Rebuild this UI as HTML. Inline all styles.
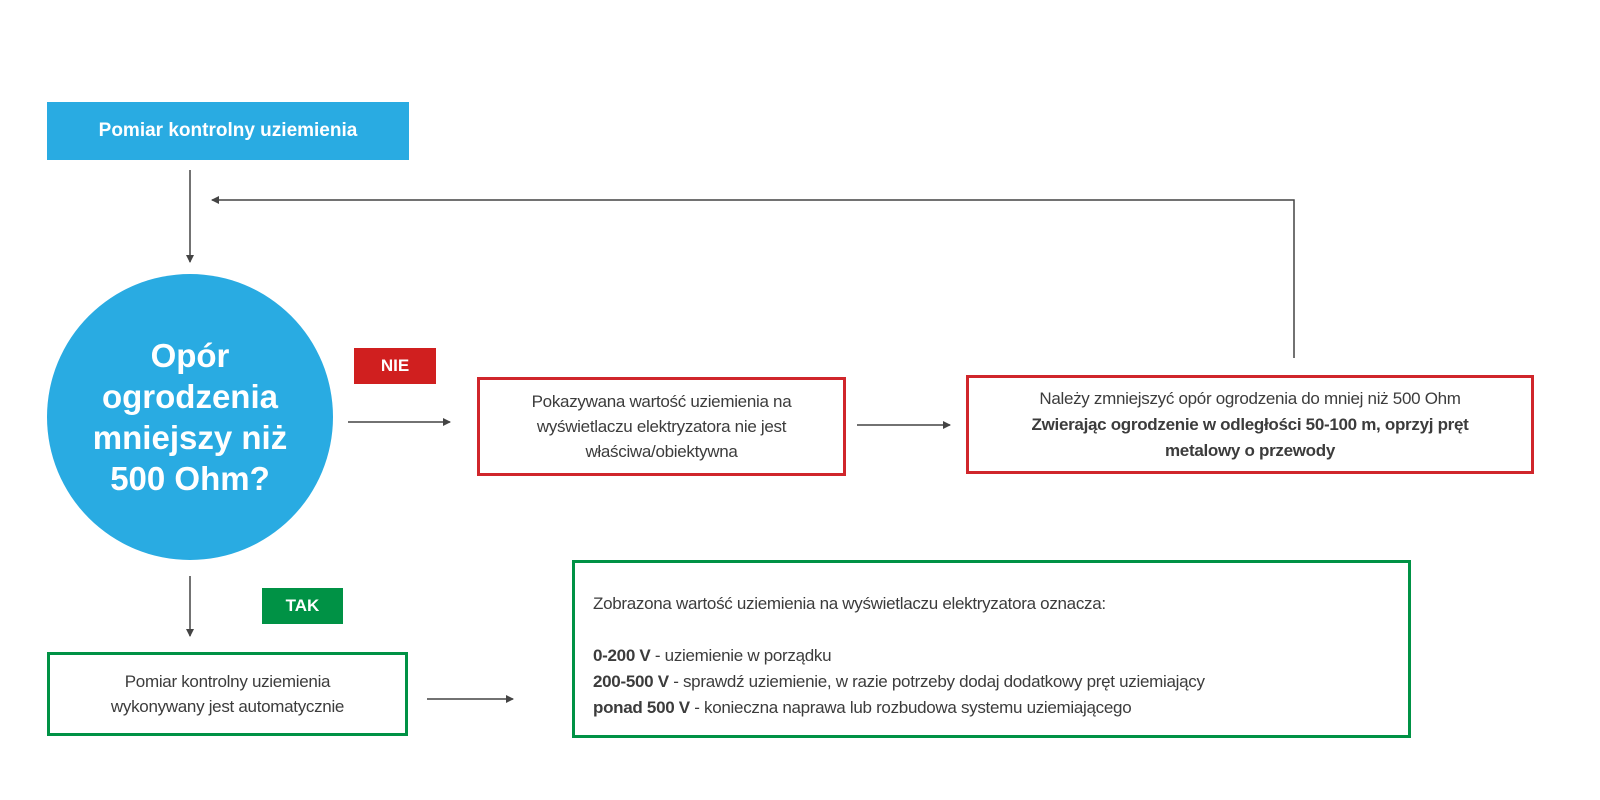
<!DOCTYPE html>
<html><head><meta charset="utf-8"><style>
body{margin:0;width:1600px;height:800px;background:#fff;position:relative;font-family:"Liberation Sans",sans-serif;color:#3c3c3c;overflow:hidden}
.a{position:absolute;box-sizing:border-box}
.c{display:flex;align-items:center;justify-content:center;text-align:center}
.t{font-size:17px;line-height:25px;letter-spacing:-0.3px}
</style></head><body>
<div class="a c" style="left:47px;top:102px;width:362px;height:58px;background:#29abe2;color:#fff;font-weight:bold;font-size:19px"><div>Pomiar kontrolny uziemienia</div></div>
<div class="a c" style="left:47px;top:274px;width:286px;height:286px;border-radius:50%;background:#29abe2;color:#fff;font-weight:bold;font-size:33px;line-height:41px"><div>Opór<br>ogrodzenia<br>mniejszy niż<br>500 Ohm?</div></div>
<div class="a c" style="left:354px;top:348px;width:82px;height:36px;background:#d01f1f;color:#fff;font-weight:bold;font-size:17px"><div>NIE</div></div>
<div class="a c t" style="left:477px;top:377px;width:369px;height:99px;border:3px solid #d0262b"><div>Pokazywana wartość uziemienia na<br>wyświetlaczu elektryzatora nie jest<br>właściwa/obiektywna</div></div>
<div class="a c t" style="left:966px;top:375px;width:568px;height:99px;border:3px solid #d0262b;line-height:26px"><div>Należy zmniejszyć opór ogrodzenia do mniej niż 500 Ohm<br><b>Zwierając ogrodzenie w odległości 50-100 m, oprzyj pręt<br>metalowy o przewody</b></div></div>
<div class="a c" style="left:262px;top:588px;width:81px;height:36px;background:#009245;color:#fff;font-weight:bold;font-size:17px"><div>TAK</div></div>
<div class="a c t" style="left:47px;top:652px;width:361px;height:84px;border:3px solid #009245"><div>Pomiar kontrolny uziemienia<br>wykonywany jest automatycznie</div></div>
<div class="a t" style="left:572px;top:560px;width:839px;height:178px;border:3px solid #009245;padding:28px 0 0 18px;line-height:26px">Zobrazona wartość uziemienia na wyświetlaczu elektryzatora oznacza:<br><br><b>0-200 V</b> - uziemienie w porządku<br><b>200-500 V</b> - sprawdź uziemienie, w razie potrzeby dodaj dodatkowy pręt uziemiający<br><b>ponad 500 V</b> - konieczna naprawa lub rozbudowa systemu uziemiającego</div>
<svg class="a" style="left:0;top:0" width="1600" height="800">
<defs><marker id="m" markerWidth="8" markerHeight="8" refX="7" refY="4" orient="auto" markerUnits="userSpaceOnUse"><path d="M0,0 L8,4 L0,8z" fill="#444"/></marker></defs>
<g stroke="#444" stroke-width="1.5" fill="none" marker-end="url(#m)">
<line x1="190" y1="170" x2="190" y2="262"/>
<line x1="348" y1="422" x2="450" y2="422"/>
<line x1="857" y1="425" x2="950" y2="425"/>
<polyline points="1294,358 1294,200 212,200"/>
<line x1="190" y1="576" x2="190" y2="636"/>
<line x1="427" y1="699" x2="513" y2="699"/>
</g></svg>
</body></html>
